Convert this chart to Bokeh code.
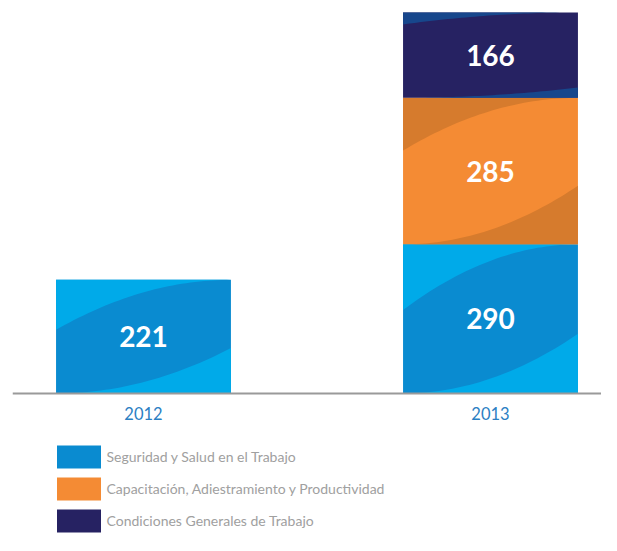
import numpy as np
from bokeh.plotting import figure
from bokeh.models import Legend, LegendItem, FixedTicker
from bokeh.embed import file_html
from bokeh.resources import INLINE
from bokeh.core.properties import value

# ---- data ----
years = ["2012", "2013"]
series = [
    "Seguridad y Salud en el Trabajo",
    "Capacitación, Adiestramiento y Productividad",
    "Condiciones Generales de Trabajo",
]
seguridad = [221, 290]
capacitacion = [0, 285]
condiciones = [0, 166]

# ---- styles ----
band_colors = ["#0a8bd0", "#f48b34", "#262262"]
corner_colors = ["#00aae9", "#d67b2d", "#17478c"]
curve_top = [0.56, 0.64, 0.86]
curve_bot = [0.40, 0.40, 0.12]
bar_width = 0.504

p = figure(width=601, height=535, output_backend="svg", toolbar_location=None,
           x_range=(-0.3775, 1.3199), y_range=(-276.2, 764.3),
           y_axis_location=None,
           min_border_left=12, min_border_right=0, min_border_top=0,
           min_border_bottom=0)
p.xgrid.visible = False
p.ygrid.visible = False
p.outline_line_color = None
p.background_fill_color = "white"

x = np.arange(len(years), dtype=float)
values = [np.array(seguridad, float), np.array(capacitacion, float), np.array(condiciones, float)]
bottom = np.zeros(len(years))
renderers = []
t = np.linspace(0, 1, 40)
for i, vals in enumerate(values):
    top = bottom + vals
    mask = vals > 0
    r = p.vbar(x=x[mask], bottom=bottom[mask], top=top[mask], width=bar_width,
               fill_color=band_colors[i], line_color=None)
    renderers.append(r)
    # decorative swoosh corners computed from each segment's bounds
    xs_list, ys_list = [], []
    for xc, y0, y1 in zip(x[mask], bottom[mask], top[mask]):
        h = y1 - y0
        x0 = xc - bar_width / 2
        x1 = xc + bar_width / 2
        xx = x0 + (x1 - x0) * t
        ytop = y0 + h * (curve_top[i] + (1 - curve_top[i]) * (1 - (1 - t) ** 2))
        xs_list.append(list(xx) + [x0])
        ys_list.append(list(ytop) + [y1])
        ybot = y0 + h * curve_bot[i] * t ** 2
        xs_list.append(list(xx) + [x1])
        ys_list.append(list(ybot) + [y0])
    p.patches(xs=xs_list, ys=ys_list, fill_color=corner_colors[i], line_color=None)
    mid = (bottom + top) / 2
    p.text(x=x[mask], y=mid[mask], text=[str(int(v)) for v in vals[mask]],
           text_align="center", text_baseline="middle", text_color="white",
           text_font=value("Lato"), text_font_style="bold", text_font_size="28px")
    bottom = top

xa = p.xaxis[0]
xa.fixed_location = 0
xa.ticker = FixedTicker(ticks=list(x))
xa.major_label_overrides = {i: y for i, y in enumerate(years)}
xa.axis_line_color = "#9a9a9a"
xa.axis_line_width = 2
xa.major_tick_line_color = None
xa.minor_tick_line_color = None
xa.major_label_text_color = "#2b80c3"
xa.major_label_text_font = "Lato"
xa.major_label_text_font_size = "16.5px"
xa.major_label_standoff = 8

legend = Legend(
    items=[LegendItem(label=s, renderers=[r]) for s, r in zip(series, renderers)],
    location=(38.5, 0.5), orientation="vertical",
    glyph_width=55, glyph_height=29, spacing=3, padding=0, margin=0,
    label_standoff=1, label_text_font="Lato", label_text_font_size="14px",
    label_text_color="#a0a0a0", border_line_color=None, background_fill_alpha=0,
)
p.add_layout(legend, "center")

open("out.html", "w").write(file_html(p, INLINE))
